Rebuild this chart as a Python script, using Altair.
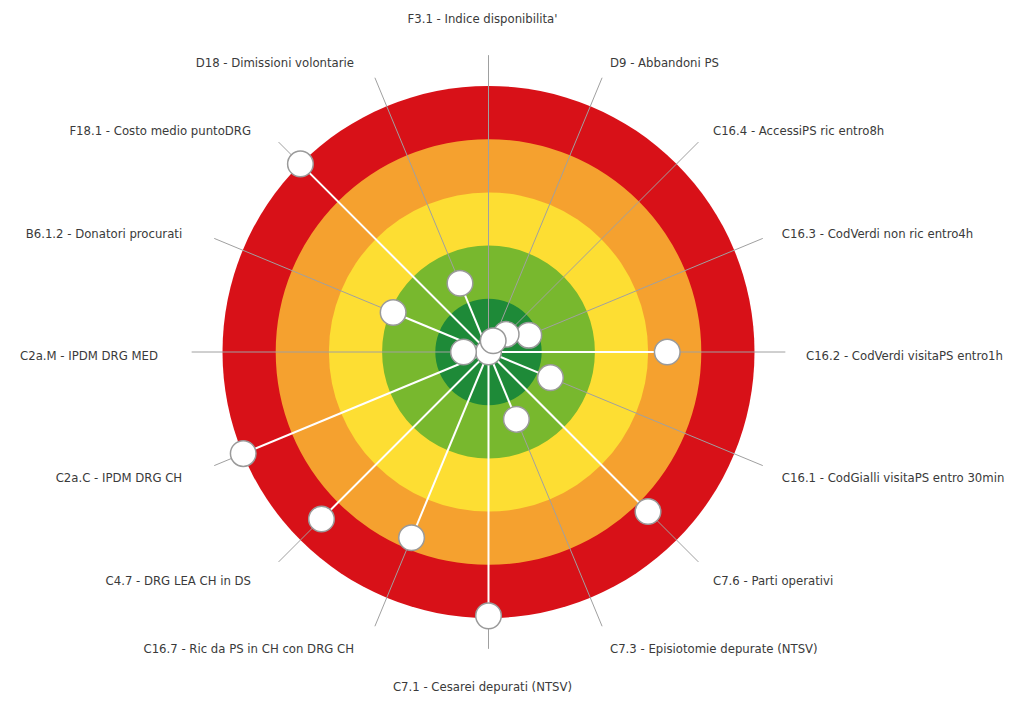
import math
import altair as alt
import pandas as pd

# ---- data ----
labels = [
    "F3.1 - Indice disponibilita'",
    "D9 - Abbandoni PS",
    "C16.4 - AccessiPS ric entro8h",
    "C16.3 - CodVerdi non ric entro4h",
    "C16.2 - CodVerdi visitaPS entro1h",
    "C16.1 - CodGialli visitaPS entro 30min",
    "C7.6 - Parti operativi",
    "C7.3 - Episiotomie depurate (NTSV)",
    "C7.1 - Cesarei depurati (NTSV)",
    "C16.7 - Ric da PS in CH con DRG CH",
    "C4.7 - DRG LEA CH in DS",
    "C2a.C - IPDM DRG CH",
    "C2a.M - IPDM DRG MED",
    "B6.1.2 - Donatori procurati",
    "F18.1 - Costo medio puntoDRG",
    "D18 - Dimissioni volontarie",
]
# performance score 0 (worst, outer ring) .. 5 (best, centre)
scores = [5.0, 4.77, 4.53, 4.18, 1.64, 3.74, 0.76, 3.63,
          0.04, 1.22, 0.56, 0.01, 4.53, 3.06, 0.0, 3.60]
# dot drawing order (later = on top)
draw_order = [0, 15, 14, 13, 12, 11, 10, 9, 8, 7, 6, 5, 4, 3, 2, 1]

ring_levels = [5, 4, 3, 2, 1]
ring_colors = ["#D81118", "#F5A12F", "#FDDE33", "#78B82E", "#1E8A38"]

# ---- geometry helpers ----
U = 53.2            # pixels per score unit
W, H = 1000, 687    # plot area
CX, CY = 480.5, 344 # centre in plot pixels
SPOKE = 5.58
LAB_SIDE = 5.968
LAB_TOP = 6.26
LAB_BOTTOM = 6.30
DOT_R = 12.8

n = len(labels)
rows = []
for i, (lab, s) in enumerate(zip(labels, scores)):
    th = math.radians(90 - 360.0 / n * i)
    r = 5 - s
    c, sn = math.cos(th), math.sin(th)
    if c > 0.1:
        side = "right"
        lr = LAB_SIDE
    elif c < -0.1:
        side = "left"
        lr = LAB_SIDE
    else:
        side = "center"
        lr = LAB_TOP if sn > 0 else LAB_BOTTOM
    rows.append(dict(label=lab, score=s, x0=0.0, y0=0.0,
                     xd=r * c, yd=r * sn,
                     xe=SPOKE * c, ye=SPOKE * sn,
                     xl=lr * c if side != "center" else 0.0,
                     yl=lr * sn, side=side, z=draw_order.index(i)))
df = pd.DataFrame(rows)
dots = df.sort_values("z")

# Vega circle symbol: radius = sqrt(size) / 2
rings = pd.DataFrame({
    "x": [0.0] * len(ring_levels),
    "y": [0.0] * len(ring_levels),
    "size": [(2 * k * U) ** 2 for k in ring_levels],
    "color": ring_colors,
})

xs = alt.Scale(domain=[-CX / U, (W - CX) / U], nice=False, zero=False)
ys = alt.Scale(domain=[-(H - CY) / U, CY / U], nice=False, zero=False)
X = lambda f: alt.X(f, type="quantitative", scale=xs, axis=None)
Y = lambda f: alt.Y(f, type="quantitative", scale=ys, axis=None)

ring_layer = alt.Chart(rings).mark_circle(opacity=1, strokeWidth=0).encode(
    x=X("x"), y=Y("y"),
    size=alt.Size("size:Q", scale=None),
    color=alt.Color("color:N", scale=None),
)

gray = alt.Chart(df).mark_rule(color="#a0a0a0", strokeWidth=1).encode(
    x=X("xd"), y=Y("yd"), x2="xe", y2="ye")
white = alt.Chart(df).mark_rule(color="#ffffff", strokeWidth=2).encode(
    x=X("x0"), y=Y("y0"), x2="xd", y2="yd")

dot_layer = alt.Chart(dots).mark_circle(
    fill="#ffffff", stroke="#9a9a9a", strokeWidth=1.5, opacity=1,
    size=(2 * DOT_R) ** 2
).encode(x=X("xd"), y=Y("yd"))

FONT = "Liberation Sans Narrow, DejaVu Sans Condensed, Roboto, sans-serif"
FS = 13
tcol = "#3a3a3a"
txt_right = alt.Chart(df[df.side == "right"]).mark_text(
    align="left", baseline="middle", dy=4, font=FONT, fontSize=FS, color=tcol
).encode(x=X("xl"), y=Y("yl"), text="label:N")
txt_left = alt.Chart(df[df.side == "left"]).mark_text(
    align="right", baseline="middle", dx=-13, dy=4, font=FONT, fontSize=FS, color=tcol
).encode(x=X("xl"), y=Y("yl"), text="label:N")
txt_center = alt.Chart(df[df.side == "center"]).mark_text(
    align="center", baseline="middle", dx=-6, font=FONT, fontSize=FS, color=tcol
).encode(x=X("xl"), y=Y("yl"), text="label:N")

chart = alt.layer(
    ring_layer, gray, white, dot_layer, txt_right, txt_left, txt_center
).properties(
    width=W, height=H, padding=0, autosize="none", background="#ffffff"
).configure_view(stroke=None)

chart.save("out.html", embed_options={"renderer": "svg", "actions": False})
